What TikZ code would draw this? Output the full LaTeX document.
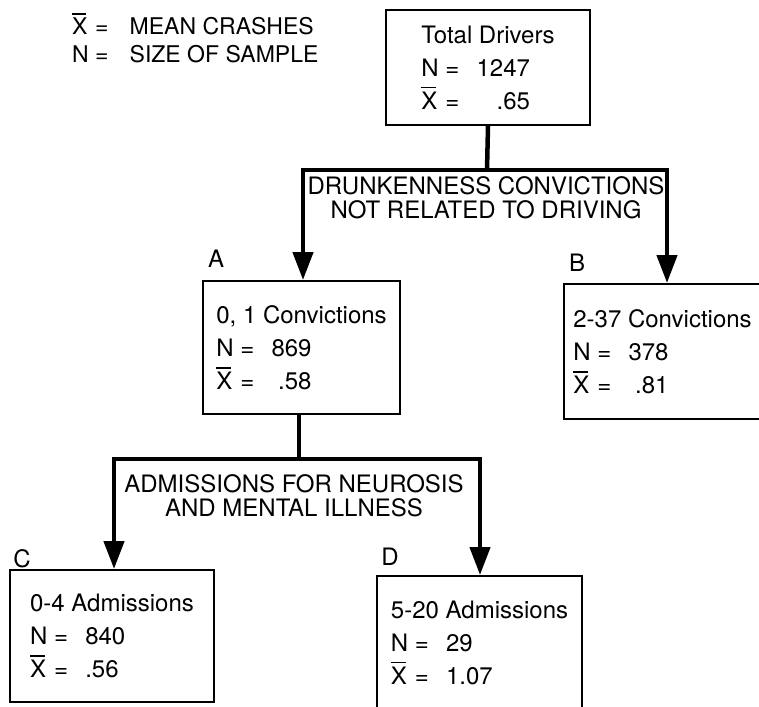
\documentclass[tikz,border=0pt]{standalone}
\usepackage{fontspec}
\setmainfont{TeX Gyre Heros}
\usetikzlibrary{arrows.meta}
% X with a bar over it (mean)
\newcommand{\Xbar}{\makebox[0pt][l]{\raisebox{0.86em}{\rule{0.62em}{0.07em}}}X}
% one statistic line: symbol, "=", value right-aligned in the width of a sample
\newcommand{\srow}[3]{\makebox[2.3em][l]{\makebox[1.0em][l]{#1}=}\hphantom{#2}\llap{#3}}
% one legend line
\newcommand{\keyrow}[2]{\makebox[2.5em][l]{\makebox[1.0em][l]{#1}=}#2}
\tikzset{
  x=1pt, y=-1pt,
  box/.style={draw, line width=2pt, inner sep=0pt, align=left,
    font=\fontsize{24}{33}\selectfont},
  fork/.style={line width=4.5pt, line join=miter,
    {Triangle[width=20pt,length=28pt]}-{Triangle[width=20pt,length=28pt]}},
  stem/.style={line width=4.5pt},
  caption/.style={inner sep=0pt, align=center, font=\fontsize{24}{24}\selectfont},
  letter/.style={inner sep=0pt, font=\fontsize{24}{24}\selectfont},
  legend/.style={inner sep=0pt, anchor=north west, align=left,
    font=\fontsize{23}{28}\selectfont},
}
\begin{document}
\begin{tikzpicture}
\useasboundingbox (0,0) rectangle (759,706);
\clip (0,0) rectangle (759,706);

% legend
\node[legend] (key) at (72,13) {\keyrow{\Xbar}{MEAN CRASHES}\\ \keyrow{N}{SIZE OF SAMPLE}};

% boxes
\node[box, minimum width=204pt, minimum height=115pt] (top) at (488,67.5)
  {Total Drivers\\ \srow{N}{1247}{1247}\\ \srow{\Xbar}{1247}{.65}};
\node[box, minimum width=197pt, minimum height=133pt] (A) at (301.5,347.5)
  {0, 1 Convictions\\ \srow{N}{869}{869}\\ \srow{\Xbar}{869}{.58}};
\node[box, minimum width=197pt, minimum height=135pt] (B) at (662.5,351.5)
  {2-37 Convictions\\ \srow{N}{378}{378}\\ \srow{\Xbar}{378}{.81}};
\node[box, minimum width=204pt, minimum height=132pt] (C) at (112,636)
  {0-4 Admissions\\ \srow{N}{840}{840}\\ \srow{\Xbar}{.56}{.56}};
\node[box, minimum width=205pt, minimum height=133pt] (D) at (479.5,642.5)
  {5-20 Admissions\\ \srow{N}{29}{29}\\ \srow{\Xbar}{1.07}{1.07}};

% group letters
\node[letter] (la) at (216,259) {A};
\node[letter] (lb) at (577,263) {B};
\node[letter] (lc) at (22,559) {C};
\node[letter] (ld) at (390,557) {D};

% first split
\coordinate (j1) at (487,170);
\coordinate (j1l) at (303,170);
\coordinate (j1r) at (667,170);
\draw[stem] (top.south) -- (j1);
\draw[fork] (j1l |- A.north) -- (j1l) -- (j1r) -- (j1r |- B.north);
\node[caption] (crit1) at (486,198) {DRUNKENNESS CONVICTIONS\\NOT RELATED TO DRIVING};

% second split
\coordinate (j2) at (299,459);
\coordinate (j2l) at (114,459);
\coordinate (j2r) at (480,459);
\draw[stem] (A.south -| j2) -- (j2);
\draw[fork] (j2l |- C.north) -- (j2l) -- (j2r) -- (j2r |- D.north);
\node[caption] (crit2) at (294,496) {ADMISSIONS FOR NEUROSIS\\AND MENTAL ILLNESS};
\end{tikzpicture}
\end{document}
